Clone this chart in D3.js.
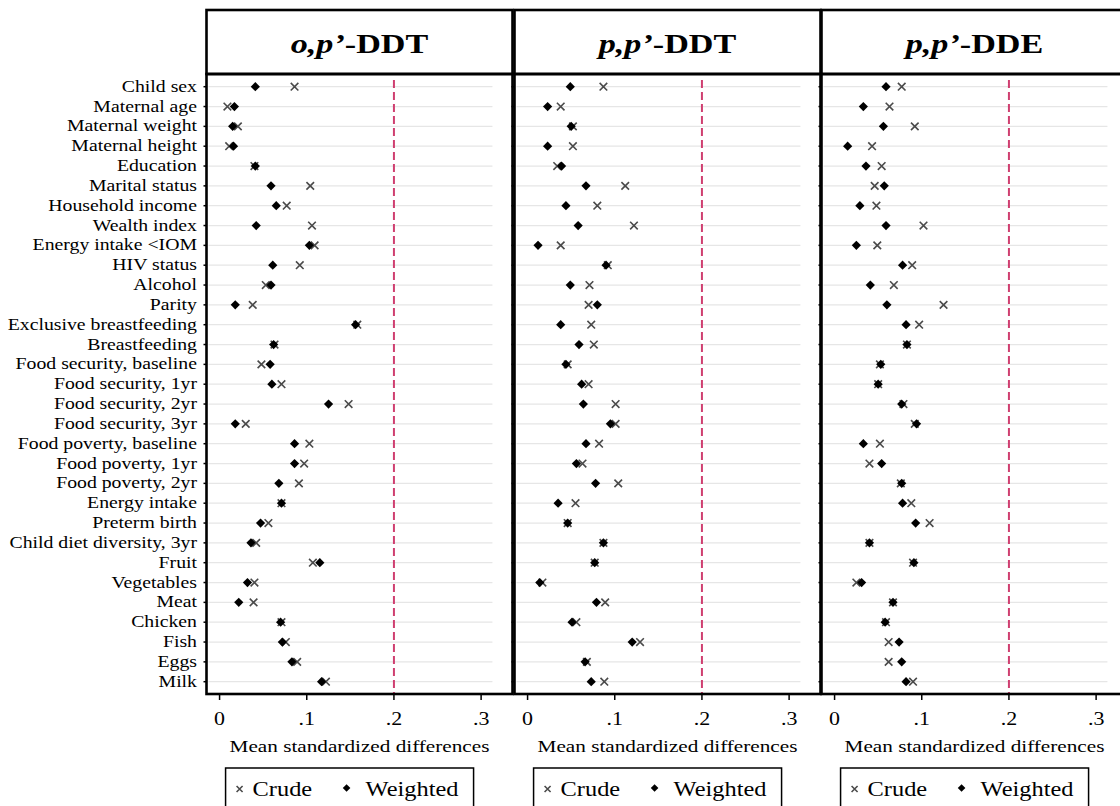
<!DOCTYPE html>
<html>
<head>
<meta charset="utf-8">
<script src="https://cdn.jsdelivr.net/npm/d3@7"></script>
<style>
body { margin: 0; background: #fff; }
</style>
</head>
<body>
<div id="chart"></div>
<script>
// rows, top to bottom
var categories = ["Child sex", "Maternal age", "Maternal weight", "Maternal height", "Education",
	"Marital status", "Household income", "Wealth index", "Energy intake <IOM", "HIV status",
	"Alcohol", "Parity", "Exclusive breastfeeding", "Breastfeeding", "Food security, baseline",
	"Food security, 1yr", "Food security, 2yr", "Food security, 3yr", "Food poverty, baseline",
	"Food poverty, 1yr", "Food poverty, 2yr", "Energy intake", "Preterm birth",
	"Child diet diversity, 3yr", "Fruit", "Vegetables", "Meat", "Chicken", "Fish", "Eggs", "Milk"];

// o,p'-DDT
var opDDT_crude = [0.086, 0.009, 0.021, 0.011, 0.040, 0.104, 0.077, 0.106, 0.109, 0.092,
	0.053, 0.038, 0.158, 0.063, 0.048, 0.071, 0.148, 0.030, 0.103, 0.097, 0.091,
	0.071, 0.056, 0.042, 0.107, 0.040, 0.039, 0.071, 0.076, 0.089, 0.122];
var opDDT_weighted = [0.041, 0.017, 0.015, 0.016, 0.041, 0.059, 0.065, 0.042, 0.103, 0.061,
	0.059, 0.018, 0.156, 0.062, 0.058, 0.060, 0.125, 0.018, 0.086, 0.086, 0.068,
	0.071, 0.047, 0.036, 0.115, 0.032, 0.022, 0.070, 0.072, 0.083, 0.117];

// p,p'-DDT
var ppDDT_crude = [0.087, 0.038, 0.052, 0.052, 0.034, 0.112, 0.080, 0.122, 0.038, 0.092,
	0.071, 0.070, 0.073, 0.076, 0.046, 0.070, 0.101, 0.101, 0.082, 0.063, 0.104,
	0.055, 0.046, 0.087, 0.077, 0.017, 0.089, 0.056, 0.129, 0.068, 0.088];
var ppDDT_weighted = [0.049, 0.023, 0.050, 0.023, 0.039, 0.067, 0.044, 0.058, 0.012, 0.090,
	0.049, 0.080, 0.038, 0.059, 0.044, 0.062, 0.064, 0.095, 0.067, 0.056, 0.078,
	0.035, 0.046, 0.087, 0.077, 0.014, 0.079, 0.051, 0.120, 0.066, 0.073];

// p,p'-DDE
var ppDDE_crude = [0.077, 0.063, 0.092, 0.043, 0.054, 0.046, 0.048, 0.102, 0.049, 0.089,
	0.068, 0.125, 0.097, 0.083, 0.052, 0.050, 0.079, 0.092, 0.052, 0.040, 0.076,
	0.088, 0.109, 0.040, 0.090, 0.025, 0.067, 0.059, 0.062, 0.062, 0.090];
var ppDDE_weighted = [0.059, 0.033, 0.056, 0.015, 0.036, 0.057, 0.029, 0.059, 0.025, 0.078,
	0.041, 0.060, 0.082, 0.083, 0.053, 0.050, 0.077, 0.094, 0.033, 0.054, 0.077,
	0.078, 0.093, 0.040, 0.091, 0.031, 0.067, 0.058, 0.074, 0.077, 0.082];

var titlesItalic = ["o,p\u2019", "p,p\u2019", "p,p\u2019"];
var titlesPlain = ["-DDT", "-DDT", "-DDE"];
var tickValues = [0, 0.1, 0.2, 0.3];
var tickLabels = ["0", ".1", ".2", ".3"];
var refLine = 0.2;
var axisTitle = "Mean standardized differences";
var legendLabels = ["Crude", "Weighted"];

var crudeSets = [opDDT_crude, ppDDT_crude, ppDDE_crude];
var weightedSets = [opDDT_weighted, ppDDT_weighted, ppDDE_weighted];

var w = 1120, h = 806;
var sx = 1.22; // the figure is stretched sideways
var serif = "'Liberation Serif', 'Times New Roman', serif";
var panelLeft = [206.5, 514.5, 821.5];
var panelW = 306;
var plotTop = 74, plotBottom = 694, headTop = 10;

var svg = d3.select("#chart").append("svg")
	.attr("width", w).attr("height", h);

var yScale = d3.scalePoint()
	.domain(categories)
	.range([86.7, 681.7]);

function stext(g, x, y, txt, size, anchor){
	return g.append("text")
		.attr("transform", "translate(" + x + "," + y + ") scale(" + sx + ",1)")
		.attr("text-anchor", anchor)
		.attr("font-family", serif)
		.attr("font-size", size + "px")
		.attr("fill", "#000")
		.text(txt);
}

// category labels
categories.forEach(function(c){
	stext(svg, 197, yScale(c) + 5, c, 16.2, "end");
});

function cross(g, x, y, r){
	g.append("path")
		.attr("d", "M" + (x - r) + "," + (y - r) + "L" + (x + r) + "," + (y + r) +
			"M" + (x - r) + "," + (y + r) + "L" + (x + r) + "," + (y - r))
		.attr("stroke", "#4a4a4a")
		.attr("stroke-width", 1.6)
		.attr("fill", "none");
}
function diamond(g, x, y, r){
	g.append("path")
		.attr("d", "M" + x + "," + (y - r) + "L" + (x + r) + "," + y + "L" + x + "," + (y + r) + "L" + (x - r) + "," + y + "Z")
		.attr("fill", "#000");
}

for (var p = 0; p < 3; p++){
	var left = panelLeft[p];
	var xScale = d3.scaleLinear()
		.domain([-0.015, 0.336])
		.range([left, left + panelW]);
	var g = svg.append("g");

	// grid lines
	g.selectAll("line.grid")
		.data(categories)
		.enter()
		.append("line")
		.attr("x1", left + 2)
		.attr("x2", xScale(0.313))
		.attr("y1", function(d){ return yScale(d); })
		.attr("y2", function(d){ return yScale(d); })
		.attr("stroke", "#e6e6e6")
		.attr("stroke-width", 1.2);

	// reference line
	g.append("line")
		.attr("x1", xScale(refLine)).attr("x2", xScale(refLine))
		.attr("y1", 80).attr("y2", plotBottom)
		.attr("stroke", "#cf3f70")
		.attr("stroke-width", 2)
		.attr("stroke-dasharray", "8,4");

	// points
	var crude = crudeSets[p], weighted = weightedSets[p];
	categories.forEach(function(c, i){
		cross(g, xScale(crude[i]), yScale(c), 3.8);
	});
	categories.forEach(function(c, i){
		diamond(g, xScale(weighted[i]), yScale(c), 4.6);
	});

	// y ticks
	categories.forEach(function(c){
		g.append("line")
			.attr("x1", left - 3).attr("x2", left)
			.attr("y1", yScale(c)).attr("y2", yScale(c))
			.attr("stroke", "#000").attr("stroke-width", 1.5);
	});

	// frame
	g.append("rect")
		.attr("x", left).attr("y", plotTop)
		.attr("width", panelW).attr("height", plotBottom - plotTop)
		.attr("fill", "none")
		.attr("stroke", "#000")
		.attr("stroke-width", 2.6);

	// header box
	g.append("rect")
		.attr("x", left).attr("y", headTop)
		.attr("width", panelW).attr("height", plotTop - headTop)
		.attr("fill", "none")
		.attr("stroke", "#000")
		.attr("stroke-width", 2.6);

	var title = stext(g, left + panelW / 2, 53, "", 28, "middle")
		.attr("font-weight", "bold");
	title.append("tspan").attr("font-style", "italic").text(titlesItalic[p]);
	title.append("tspan").text(titlesPlain[p]);

	// x axis ticks and labels
	tickValues.forEach(function(v, i){
		g.append("line")
			.attr("x1", xScale(v)).attr("x2", xScale(v))
			.attr("y1", plotBottom).attr("y2", plotBottom + 6)
			.attr("stroke", "#000").attr("stroke-width", 1.5);
		stext(g, xScale(v), 725, tickLabels[i], 18, "middle");
	});

	stext(g, left + panelW / 2, 752, axisTitle, 17.4, "middle");

	// legend
	var x0 = xScale(0);
	g.append("rect")
		.attr("x", x0 + 6).attr("y", 768)
		.attr("width", 248).attr("height", 60)
		.attr("fill", "none")
		.attr("stroke", "#000")
		.attr("stroke-width", 1.5);
	cross(g, x0 + 20, 789, 3);
	stext(g, x0 + 33, 796, legendLabels[0], 20, "start");
	diamond(g, x0 + 127, 788, 3.8);
	stext(g, x0 + 146, 796, legendLabels[1], 20, "start");
}
</script>
</body>
</html>
